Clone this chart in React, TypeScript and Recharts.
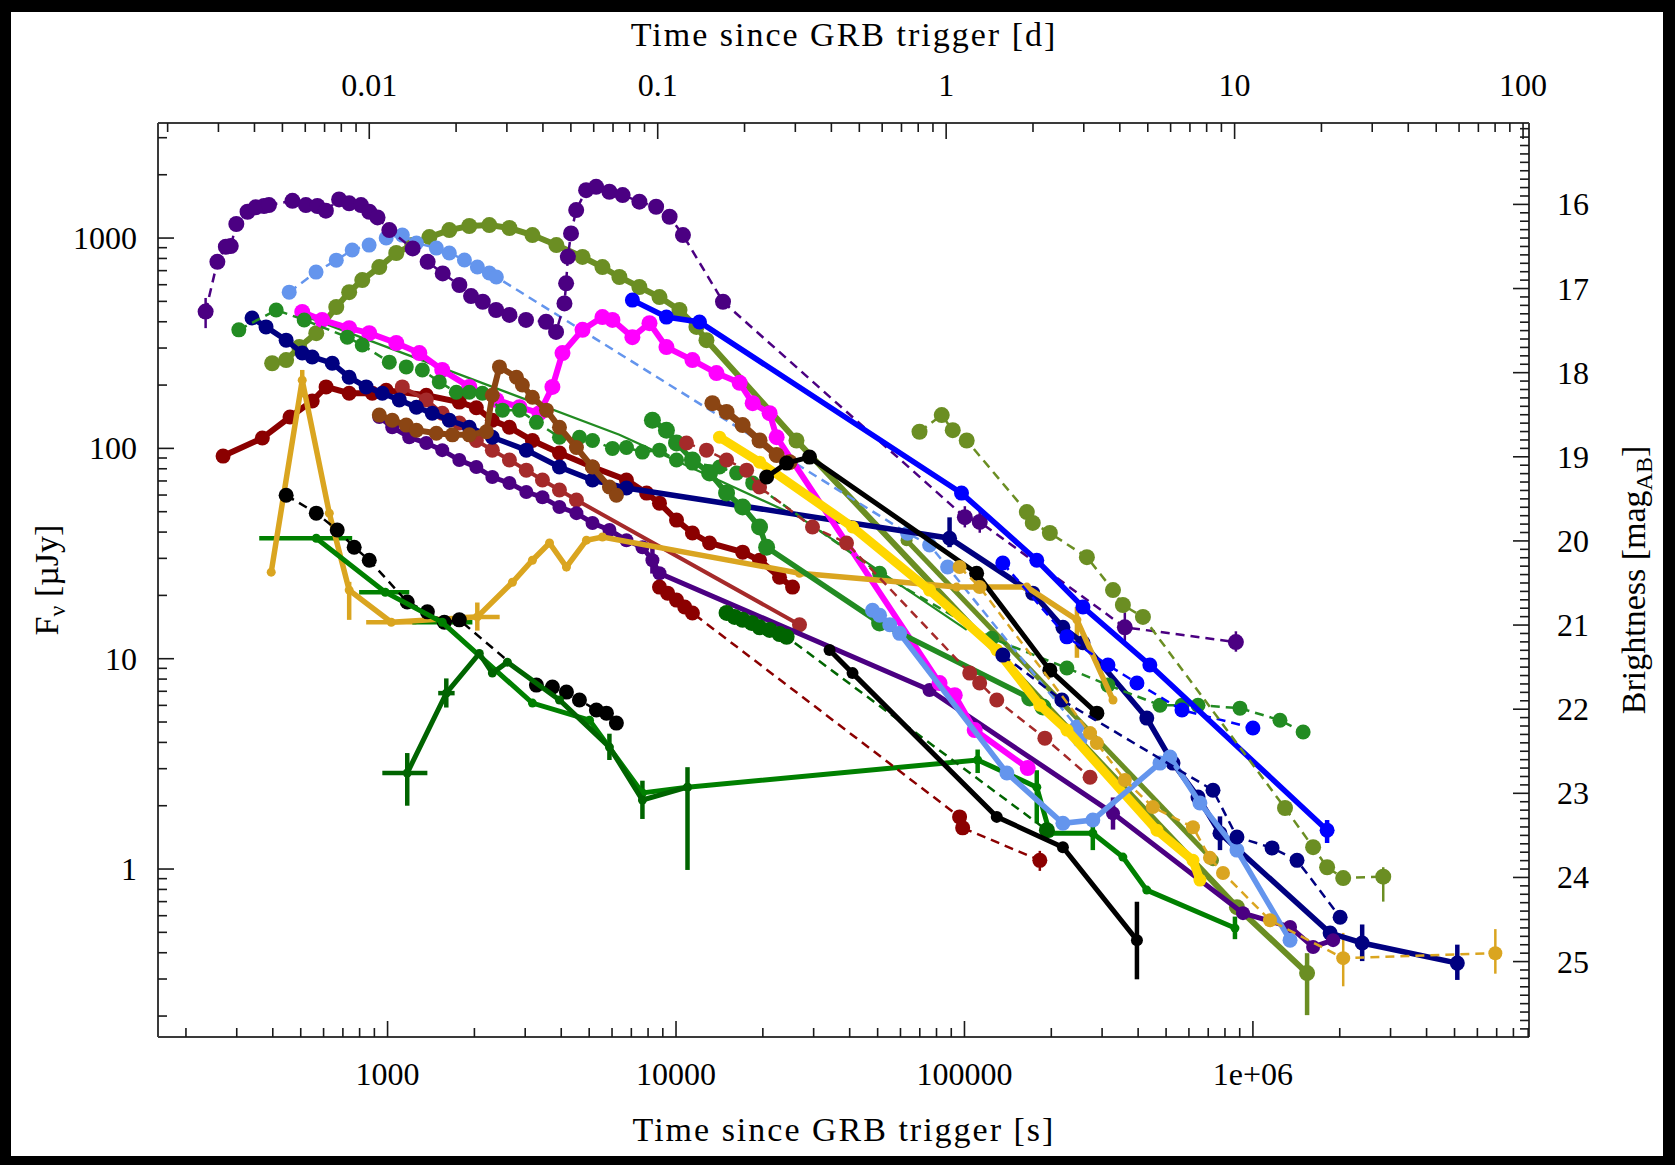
import React from "react";
import { ScatterChart, Scatter, XAxis, YAxis, ErrorBar } from "recharts";

type Err = [number, number] | null;
type Row = [number, number, Err?, Err?];

const W = 1675;
const H = 1165;
const FONT = "Liberation Serif, Times New Roman, DejaVu Serif, serif";

// axis ranges: time [s], flux [uJy]
const T_MIN = 160;
const T_MAX = 9.06e6;
const F_MIN = 0.159;
const F_MAX = 3524;
const DAY = 86400;
const MAG_TOP = 23.9 - 2.5 * Math.log10(F_MAX);
const MAG_BOT = 23.9 - 2.5 * Math.log10(F_MIN);

// tick labels
const BOTTOM_MAJOR = [1000, 10000, 100000, 1000000];
const BOTTOM_LABELS = ["1000", "10000", "100000", "1e+06"];
const TOP_MAJOR = [0.01, 0.1, 1, 10, 100];
const TOP_LABELS = ["0.01", "0.1", "1", "10", "100"];
const LEFT_MAJOR = [1, 10, 100, 1000];
const LEFT_LABELS = ["1", "10", "100", "1000"];
const MAG_MAJOR = [16, 17, 18, 19, 20, 21, 22, 23, 24, 25];

// light curves: [t (s), F (uJy), yErr?, xErr?]
const ind1: Row[] = [
  [234, 447, [74, 72]], [257, 771], [275, 909], [286, 916], [299, 1166], [327, 1334], [349, 1400],
  [373, 1420], [388, 1435], [468, 1503], [521, 1435], [571, 1420], [611, 1349], [679, 1527],
  [736, 1462], [809, 1435], [864, 1334], [923, 1254], [1014, 1091], [1222, 893], [1377, 771],
  [1553, 679], [1774, 598], [1947, 530], [2138, 498], [2378, 455], [2645, 431], [3020, 408],
  [3545, 400], [3838, 358], [4104, 489], [4159, 609], [4217, 815], [4325, 1052], [4508, 1358],
  [4879, 1690], [5285, 1753], [5875, 1660], [6531, 1600], [7464, 1489], [8531, 1409], [9500, 1263],
  [10570, 1033], [14550, 498], [100300, 47.1, [5, 6]], [113000, 44.7, [5, 6]],
  [359700, 14.1, [2, 2.5]], [873000, 12.0, [1.2, 1.5]],
];
const corn1: Row[] = [
  [456, 553], [565, 689], [664, 785], [754, 877], [863, 926], [989, 1000], [1125, 1033], [1259, 947],
  [1476, 896], [1637, 849], [1847, 786], [2048, 728], [2253, 682], [2383, 653], [63500, 39.5],
  [75700, 34.7], [87400, 27.3], [245400, 4.73], [251200, 4.1],
];
const olive1: Row[] = [
  [398, 254], [445, 263], [494, 303], [566, 353], [664, 470], [736, 553], [817, 631], [936, 728],
  [1072, 849], [1218, 926], [1396, 1011], [1637, 1091], [1920, 1141], [2253, 1153], [2645, 1116],
  [3178, 1033], [3848, 926], [4740, 813], [5559, 728], [6364, 653], [7463, 585], [8763, 524],
  [10280, 455], [11770, 378], [12750, 327], [26160, 109], [880300, 0.659], [1541000, 0.32, [0.118, 0.078]],
];
const olive2: Row[] = [[62990, 36.6], [727100, 1.1]];
const olive3: Row[] = [
  [69840, 120], [83400, 144], [91070, 122], [101800, 109], [164500, 49.8], [172500, 44.2],
  [197700, 39.6], [265700, 30.4], [327300, 21.2], [354100, 18.0], [415600, 15.8], [1292000, 1.95],
  [1617000, 1.27], [1808000, 1.02], [2056000, 0.906], [2830000, 0.92, [0.22, 0.1]],
];
const blue1: Row[] = [
  [7059, 507], [9264, 421], [12060, 399], [97670, 61.3], [178100, 29.4], [257500, 17.6],
  [439200, 9.33], [1808000, 1.53, [0.2, 0.18]],
];
const blue2: Row[] = [
  [135800, 28.5], [226500, 12.7], [314400, 9.33], [396200, 7.66], [567700, 5.7], [1000000, 4.68],
];
const navy1: Row[] = [
  [339, 417], [379, 378], [445, 327], [506, 284], [548, 272], [643, 254], [736, 218], [843, 196],
  [959, 183], [1098, 170], [1259, 157], [1429, 147], [1637, 136], [1920, 126], [2308, 113],
  [3027, 98.1], [3944, 81.5], [5134, 70.7], [6731, 64.8], [88790, 37.4, [3.5, 9.6]], [172500, 20.5],
  [219400, 14.1], [257500, 11.9], [428600, 5.22], [528300, 3.19], [645100, 2.2],
  [768800, 1.48, [0.25, 0.3]], [1852000, 0.496], [2392000, 0.445, [0.08, 0.1]],
  [5112000, 0.357, [0.06, 0.08]],
];
const navy2: Row[] = [
  [135800, 10.4], [217600, 6.36], [727100, 2.37], [880300, 1.42], [1165000, 1.26], [1422000, 1.1],
  [2006000, 0.59],
];
const mag1: Row[] = [
  [506, 445], [593, 408], [736, 373], [864, 353], [1072, 317], [1289, 284], [1547, 236], [1920, 196],
  [2383, 170], [2866, 157], [3361, 147], [3728, 196], [4040, 284], [4740, 366], [5559, 421],
  [6020, 408], [7059, 338], [8091, 394], [9264, 303], [11400, 263], [13810, 228], [16620, 205],
  [18440, 164], [21110, 147], [22330, 113], [81960, 7.66], [92520, 6.71], [108500, 4.58], [165700, 3.02],
];
const forest1: Row[] = [
  [305, 366], [411, 455], [514, 408], [725, 338], [817, 310], [1014, 257], [1161, 244], [1320, 236],
  [1511, 207], [1731, 185], [1920, 185], [2131, 183], [2503, 152], [2866, 152], [3281, 133],
  [3944, 113], [4626, 113], [5134, 109], [6020, 100], [6731, 101], [7648, 96.0], [8763, 98.1],
  [10040, 88.0], [11400, 85.1], [14150, 81.5], [16220, 76.3], [18440, 68.4], [50790, 25.5],
  [124300, 12.5], [226500, 9.03], [314400, 7.49], [476200, 6.01], [567700, 6.01], [645100, 6.01],
  [901700, 5.82], [1241000, 5.1], [1493000, 4.48],
];
const forest2: Row[] = [[506, 430], [6364, 116], [26800, 47.1], [101800, 13.7]];
const forest3: Row[] = [
  [8283, 136], [9264, 122], [10040, 106], [11400, 88.0], [13070, 76.3], [14970, 61.3], [17020, 52.6],
  [19480, 42.3], [20610, 33.9], [50790, 14.8], [168400, 6.5], [187000, 5.89],
];
const dkgreen2: Row[] = [
  [14970, 16.5], [15960, 15.8], [17020, 15.3], [18290, 14.8], [19480, 14.1], [21110, 13.7],
  [22850, 13.1], [24180, 12.7], [193100, 1.53],
];
const green1: Row[] = [
  [566, 37.4, null, [207, 188]], [982, 20.7, null, [185, 207]], [1547, 14.9, null, [329, 421]],
  [3178, 6.15], [5013, 5.1], [7648, 2.3], [10960, 2.45], [111100, 3.3, [0.44, 0.4]],
  [178100, 2.45, [0.8, 0.5]], [197700, 1.48], [278600, 1.48, [0.25, 0.3]], [354100, 1.14],
  [428600, 0.794], [866400, 0.524, [0.06, 0.07]],
];
const dkgreen1: Row[] = [
  [1170, 2.86, [0.86, 0.7], [211, 204]], [1598, 6.86, [1.0, 1.2], [100, 110]], [2080, 10.6],
  [2308, 8.54], [2603, 9.63], [3944, 6.36], [5876, 3.8, [0.5, 0.6]], [7648, 2.13, [0.4, 0.5]],
  [10960, 2.45, [1.46, 0.6]],
];
const golden1: Row[] = [
  [395, 25.8], [506, 211, [36, 25]], [628, 49.2], [736, 21.2, [5.9, 2]], [1030, 14.9, null, [187, 229]],
  [2047, 15.8, [2.2, 2.7], [300, 400]], [2710, 23.1], [3178, 29.4], [3642, 35.5], [4170, 27.3],
  [4892, 36.6], [5559, 37.9], [26800, 25.5], [93940, 21.9], [164500, 21.9], [245400, 15.3, [5.2, 2.3]],
  [327300, 6.36],
];
const golden2: Row[] = [
  [96180, 27.3], [112900, 21.9], [272500, 4.43], [287800, 3.97], [359700, 2.65], [449900, 1.97],
  [619700, 1.58], [709600, 1.13], [787500, 0.957], [1146000, 0.571], [2056000, 0.377, [0.1, 0.12]],
  [6925000, 0.398, [0.08, 0.12]],
];
const black1: Row[] = [
  [445, 59.9], [566, 49.2], [669, 40.9], [766, 33.9], [864, 29.4], [1170, 18.6], [1374, 16.7],
  [1573, 14.9], [1773, 15.3], [3281, 7.49], [3728, 7.33], [4170, 6.94], [4626, 6.36], [5296, 5.7],
  [5738, 5.51], [6213, 4.94],
];
const black2: Row[] = [
  [20610, 73.1], [24180, 85.1], [29030, 90.9], [110200, 25.5], [197700, 8.82], [287800, 5.51],
];
const black3: Row[] = [
  [34060, 11.0], [40920, 8.54], [129400, 1.77], [219400, 1.27], [396200, 0.459, [0.16, 0.24]],
];
const darkred1: Row[] = [
  [269, 91.9], [368, 112], [459, 141], [548, 168], [612, 196], [736, 183], [885, 183], [989, 189],
  [1362, 179], [1773, 166], [2031, 156], [2308, 136], [2645, 126], [3178, 109], [3944, 95.0],
  [5134, 81.5], [6731, 70.7], [7907, 61.3], [8763, 54.9], [10040, 45.6], [11400, 39.6], [13070, 35.5],
  [17020, 32.1], [19480, 29.4], [22850, 24.4], [25350, 21.9],
];
const darkred2: Row[] = [
  [8763, 21.9], [9351, 20.5], [10040, 19.0], [10720, 17.6], [11400, 16.5], [96180, 1.77],
  [98570, 1.57], [182500, 1.1, [0.12, 0.12]],
];
const brown1: Row[] = [
  [1125, 196], [1362, 170], [1547, 147], [1773, 132], [2031, 109], [2308, 98.1], [2645, 88.0],
  [3027, 78.8], [3443, 70.7], [3944, 63.4], [4516, 56.8], [26800, 14.5],
];
const brown2: Row[] = [
  [10870, 106], [12750, 98.1], [14970, 88.0], [17570, 78.8], [19480, 65.5], [29730, 42.3],
  [39000, 35.5], [104300, 8.54], [112900, 7.66], [129400, 6.36], [190000, 4.19], [272500, 2.73],
];
const saddle1: Row[] = [
  [936, 144], [1038, 136], [1161, 129], [1259, 122], [1476, 118], [1678, 116], [1920, 116],
  [2200, 120], [2308, 179], [2443, 244], [2798, 218], [2933, 200], [3178, 175], [3555, 152],
  [3944, 126], [4516, 101], [5134, 81.5], [5876, 65.5], [6213, 59.9],
];
const saddle2: Row[] = [
  [13370, 164], [14970, 149], [17020, 129], [19480, 109], [22330, 92.9], [24760, 86.0],
];
const gold1: Row[] = [
  [14150, 113], [19480, 86.0], [40920, 42.3], [75630, 21.2], [129400, 11.0], [182500, 6.01],
  [226500, 4.58], [464700, 1.53], [619700, 1.1], [655000, 0.886],
];
const indigo2: Row[] = [
  [936, 141], [1038, 126], [1189, 113], [1362, 106], [1547, 98.1], [1773, 88.0], [2031, 81.5],
  [2308, 73.1], [2645, 68.4], [3027, 62.0], [3443, 58.6], [3944, 52.6], [4516, 49.2], [5134, 44.2],
  [5876, 40.9], [6731, 36.6], [7648, 33.9], [8283, 29.4, [4, 6]], [8763, 25.5], [75630, 7.1],
  [327300, 1.84, [0.3, 0.35]], [924000, 0.617], [1345000, 0.53], [1617000, 0.426], [1897000, 0.459],
];
const corn2: Row[] = [
  [47990, 17.0], [50790, 16.1], [55080, 14.5], [59600, 13.2], [140300, 2.86], [219400, 1.65],
  [278600, 1.71], [476200, 3.19], [515800, 3.41], [655000, 2.06], [880300, 1.23], [1345000, 0.459],
];

const DASH = "9 6";

const SERIES: { id: string; rows: Row[]; color: string; w: number; r: number; dash?: string }[] = [
  { id: "olive2", rows: olive2, color: "#6B8E23", w: 5, r: 6 },
  { id: "olive1", rows: olive1, color: "#6B8E23", w: 6, r: 8 },
  { id: "corn1", rows: corn1, color: "#6495ED", w: 2.5, r: 7.5, dash: DASH },
  { id: "ind1", rows: ind1, color: "#4B0082", w: 2.5, r: 8, dash: DASH },
  { id: "forest2", rows: forest2, color: "#228B22", w: 2.2, r: 0 },
  { id: "darkred1", rows: darkred1, color: "#8B0000", w: 6, r: 7.5 },
  { id: "brown1", rows: brown1, color: "#A52A2A", w: 4, r: 7.5 },
  { id: "navy1", rows: navy1, color: "#000080", w: 5.5, r: 7.5 },
  { id: "indigo2", rows: indigo2, color: "#4B0082", w: 5, r: 7 },
  { id: "mag1", rows: mag1, color: "#FF00FF", w: 6, r: 8 },
  { id: "forest1", rows: forest1, color: "#228B22", w: 2.5, r: 7.5, dash: DASH },
  { id: "saddle1", rows: saddle1, color: "#8B4513", w: 6, r: 7.5 },
  { id: "golden1", rows: golden1, color: "#DAA520", w: 5.5, r: 4.5 },
  { id: "black1", rows: black1, color: "#000000", w: 2.5, r: 7.5, dash: DASH },
  { id: "green1", rows: green1, color: "#008000", w: 5, r: 4.5 },
  { id: "dkgreen1", rows: dkgreen1, color: "#006400", w: 5, r: 4.5 },
  { id: "forest3", rows: forest3, color: "#228B22", w: 5.5, r: 8.5 },
  { id: "darkred2", rows: darkred2, color: "#8B0000", w: 2.5, r: 7.5, dash: DASH },
  { id: "dkgreen2", rows: dkgreen2, color: "#006400", w: 2.5, r: 8, dash: DASH },
  { id: "brown2", rows: brown2, color: "#A52A2A", w: 2.5, r: 7.5, dash: DASH },
  { id: "saddle2", rows: saddle2, color: "#8B4513", w: 7, r: 8 },
  { id: "gold1", rows: gold1, color: "#FFD700", w: 9, r: 6.5 },
  { id: "black2", rows: black2, color: "#000000", w: 5, r: 7.5 },
  { id: "black3", rows: black3, color: "#000000", w: 5, r: 6 },
  { id: "corn2", rows: corn2, color: "#6495ED", w: 5.5, r: 7.5 },
  { id: "blue1", rows: blue1, color: "#0000FF", w: 5.5, r: 7.5 },
  { id: "blue2", rows: blue2, color: "#0000FF", w: 2.5, r: 7.5, dash: DASH },
  { id: "navy2", rows: navy2, color: "#000080", w: 2.5, r: 7.5, dash: DASH },
  { id: "olive3", rows: olive3, color: "#6B8E23", w: 2.5, r: 8, dash: DASH },
  { id: "golden2", rows: golden2, color: "#DAA520", w: 2.5, r: 7, dash: DASH },
];

const toPts = (rows: Row[]) =>
  rows.map(([t, f, ey, ex]) => ({ t, f, ey: ey || undefined, ex: ex || undefined }));

const decadeTicks = (decades: number[], maxV: number, minV: number) => {
  const out: number[] = [];
  decades.forEach((d) => {
    for (let m = 1; m <= 9; m++) {
      const v = m === 1 ? d : +(m * d).toPrecision(6);
      if (v >= minV && v <= maxV) out.push(v);
    }
  });
  return out;
};

const bottomTicks = decadeTicks([100, 1000, 10000, 100000, 1000000], T_MAX, T_MIN);
const topTicks = decadeTicks([0.001, 0.01, 0.1, 1, 10, 100], T_MAX / DAY, T_MIN / DAY);
const leftTicks = decadeTicks([0.1, 1, 10, 100, 1000], F_MAX, F_MIN);
const magTicks: number[] = [];
for (let i = 151; i <= 258; i++) magTicks.push(i / 10);

const TK = "#1a1a1a";
const LBL = 32;

const BottomTick = (p: any) => {
  const i = BOTTOM_MAJOR.indexOf(p.payload.value);
  return (
    <g>
      <line x1={p.x} x2={p.x} y1={p.y} y2={p.y - (i >= 0 ? 16 : 9)} stroke={TK} strokeWidth={1.6} />
      {i >= 0 && (
        <text x={p.x} y={p.y + 48} textAnchor="middle" fontSize={LBL} fontFamily={FONT} fill="#000">
          {BOTTOM_LABELS[i]}
        </text>
      )}
    </g>
  );
};
const TopTick = (p: any) => {
  const i = TOP_MAJOR.indexOf(p.payload.value);
  return (
    <g>
      <line x1={p.x} x2={p.x} y1={p.y} y2={p.y + (i >= 0 ? 16 : 9)} stroke={TK} strokeWidth={1.6} />
      {i >= 0 && (
        <text x={p.x} y={p.y - 27} textAnchor="middle" fontSize={LBL} fontFamily={FONT} fill="#000">
          {TOP_LABELS[i]}
        </text>
      )}
    </g>
  );
};
const LeftTick = (p: any) => {
  const i = LEFT_MAJOR.indexOf(p.payload.value);
  return (
    <g>
      <line x1={p.x} x2={p.x + (i >= 0 ? 16 : 9)} y1={p.y} y2={p.y} stroke={TK} strokeWidth={1.6} />
      {i >= 0 && (
        <text x={p.x - 21} y={p.y + 11} textAnchor="end" fontSize={LBL} fontFamily={FONT} fill="#000">
          {LEFT_LABELS[i]}
        </text>
      )}
    </g>
  );
};
const RightTick = (p: any) => {
  const v = p.payload.value;
  const major = MAG_MAJOR.indexOf(v) >= 0;
  return (
    <g>
      <line x1={p.x} x2={p.x - (major ? 16 : 9)} y1={p.y} y2={p.y} stroke={TK} strokeWidth={1.6} />
      {major && (
        <text x={p.x + 28} y={p.y + 11} textAnchor="start" fontSize={LBL} fontFamily={FONT} fill="#000">
          {v}
        </text>
      )}
    </g>
  );
};

const dot = (color: string, r: number) => (p: any) =>
  r > 0 && p.cx != null ? <circle cx={p.cx} cy={p.cy} r={r} fill={color} /> : <g />;

const axisLine = { stroke: "#3a3a3a", strokeWidth: 2 };

export default function App() {
  return (
    <div style={{ position: "fixed", left: 0, top: 0, width: W, height: H, background: "#000" }}>
      <div style={{ position: "absolute", left: 11, top: 12, width: W - 23, height: H - 21, background: "#fff" }} />
      <div style={{ position: "absolute", left: 0, top: 0 }}>
        <ScatterChart width={W} height={H} margin={{ top: 0, right: 0, bottom: 0, left: 0 }}>
          <XAxis
            xAxisId={0}
            dataKey="t"
            type="number"
            scale="log"
            domain={[T_MIN, T_MAX]}
            allowDataOverflow
            ticks={bottomTicks}
            interval={0}
            tick={BottomTick}
            tickSize={0}
            tickMargin={0}
            tickLine={false}
            axisLine={axisLine}
            height={128}
          />
          <XAxis
            xAxisId="d"
            dataKey="t"
            orientation="top"
            type="number"
            scale="log"
            domain={[T_MIN / DAY, T_MAX / DAY]}
            allowDataOverflow
            ticks={topTicks}
            interval={0}
            tick={TopTick}
            tickSize={0}
            tickMargin={0}
            tickLine={false}
            axisLine={axisLine}
            height={123}
          />
          <YAxis
            yAxisId={0}
            dataKey="f"
            type="number"
            scale="log"
            domain={[F_MIN, F_MAX]}
            allowDataOverflow
            ticks={leftTicks}
            interval={0}
            tick={LeftTick}
            tickSize={0}
            tickMargin={0}
            tickLine={false}
            axisLine={axisLine}
            width={158}
          />
          <YAxis
            yAxisId="mag"
            dataKey="f"
            orientation="right"
            type="number"
            domain={[MAG_TOP, MAG_BOT]}
            reversed
            allowDataOverflow
            ticks={magTicks}
            interval={0}
            tick={RightTick}
            tickSize={0}
            tickMargin={0}
            tickLine={false}
            axisLine={axisLine}
            width={146}
          />
          <Scatter
            xAxisId="d"
            yAxisId="mag"
            data={[{ t: 1, f: 20 }]}
            shape={() => <g />}
            isAnimationActive={false}
          />
          {SERIES.map((s) => (
            <Scatter
              key={s.id}
              xAxisId={0}
              yAxisId={0}
              data={toPts(s.rows)}
              fill={s.color}
              line={{ stroke: s.color, strokeWidth: s.w, strokeDasharray: s.dash, fill: "none" }}
              shape={dot(s.color, s.r)}
              isAnimationActive={false}
            >
              <ErrorBar dataKey="ey" direction="y" width={0} stroke={s.color} strokeWidth={s.dash ? 2.5 : 4.5} isAnimationActive={false} />
              <ErrorBar dataKey="ex" direction="x" width={0} stroke={s.color} strokeWidth={s.dash ? 2.5 : 4.5} isAnimationActive={false} />
            </Scatter>
          ))}
        </ScatterChart>
      </div>
      <svg width={W} height={H} style={{ position: "absolute", left: 0, top: 0, pointerEvents: "none" }}>
        <g fontFamily={FONT} fill="#000" fontSize={34}>
          <text x={844} y={1141} textAnchor="middle" letterSpacing={2}>
            Time since GRB trigger [s]
          </text>
          <text x={844} y={46} textAnchor="middle" letterSpacing={2}>
            Time since GRB trigger [d]
          </text>
          <text x={58} y={580} textAnchor="middle" transform="rotate(-90 58 580)">
            F<tspan dy={7} fontSize={24}>ν</tspan>
            <tspan dy={-7}> [µJy]</tspan>
          </text>
          <text x={1645} y={580} textAnchor="middle" transform="rotate(-90 1645 580)">
            Brightness [mag<tspan dy={7} fontSize={24}>AB</tspan>
            <tspan dy={-7}>]</tspan>
          </text>
        </g>
      </svg>
    </div>
  );
}
